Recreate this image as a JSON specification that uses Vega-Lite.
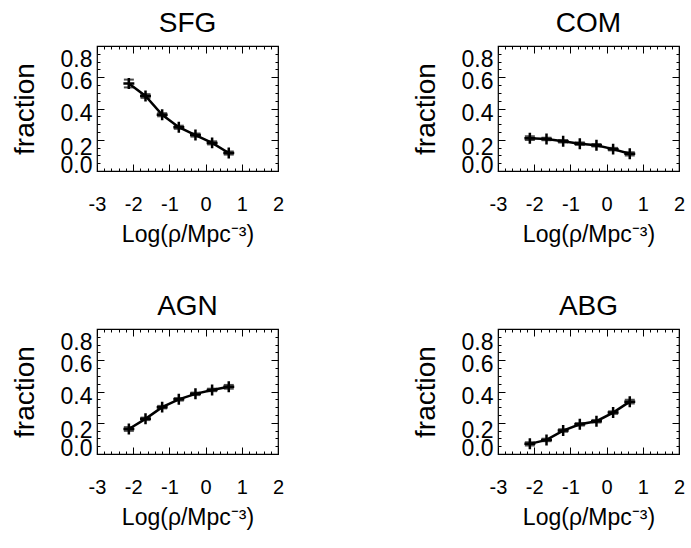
{
  "$schema": "https://vega.github.io/schema/vega-lite/v6.json",
  "background": "white",
  "padding": {"left": 10, "top": 9, "right": 5, "bottom": 5},
  "config": {
    "font": "Liberation Sans",
    "view": {"stroke": "black", "strokeWidth": 1.2}
  },
  "data": {
    "values": [
      {"cls": "SFG", "logrho": -2.12, "frac": 0.56, "lo": 0.535, "hi": 0.585},
      {"cls": "SFG", "logrho": -1.66, "frac": 0.48, "lo": 0.468, "hi": 0.492},
      {"cls": "SFG", "logrho": -1.2, "frac": 0.36, "lo": 0.35, "hi": 0.37},
      {"cls": "SFG", "logrho": -0.74, "frac": 0.28, "lo": 0.27, "hi": 0.29},
      {"cls": "SFG", "logrho": -0.28, "frac": 0.23, "lo": 0.22, "hi": 0.24},
      {"cls": "SFG", "logrho": 0.18, "frac": 0.18, "lo": 0.17, "hi": 0.19},
      {"cls": "SFG", "logrho": 0.64, "frac": 0.115, "lo": 0.105, "hi": 0.125},
      {"cls": "COM", "logrho": -2.12, "frac": 0.21, "lo": 0.198, "hi": 0.222},
      {"cls": "COM", "logrho": -1.66, "frac": 0.205, "lo": 0.197, "hi": 0.213},
      {"cls": "COM", "logrho": -1.2, "frac": 0.19, "lo": 0.182, "hi": 0.198},
      {"cls": "COM", "logrho": -0.74, "frac": 0.175, "lo": 0.167, "hi": 0.183},
      {"cls": "COM", "logrho": -0.28, "frac": 0.165, "lo": 0.157, "hi": 0.173},
      {"cls": "COM", "logrho": 0.18, "frac": 0.14, "lo": 0.132, "hi": 0.148},
      {"cls": "COM", "logrho": 0.64, "frac": 0.11, "lo": 0.1, "hi": 0.12},
      {"cls": "AGN", "logrho": -2.12, "frac": 0.16, "lo": 0.148, "hi": 0.172},
      {"cls": "AGN", "logrho": -1.66, "frac": 0.225, "lo": 0.217, "hi": 0.233},
      {"cls": "AGN", "logrho": -1.2, "frac": 0.3, "lo": 0.292, "hi": 0.308},
      {"cls": "AGN", "logrho": -0.74, "frac": 0.35, "lo": 0.342, "hi": 0.358},
      {"cls": "AGN", "logrho": -0.28, "frac": 0.385, "lo": 0.377, "hi": 0.393},
      {"cls": "AGN", "logrho": 0.18, "frac": 0.41, "lo": 0.402, "hi": 0.418},
      {"cls": "AGN", "logrho": 0.64, "frac": 0.43, "lo": 0.418, "hi": 0.442},
      {"cls": "ABG", "logrho": -2.12, "frac": 0.065, "lo": 0.055, "hi": 0.075},
      {"cls": "ABG", "logrho": -1.66, "frac": 0.09, "lo": 0.082, "hi": 0.098},
      {"cls": "ABG", "logrho": -1.2, "frac": 0.15, "lo": 0.142, "hi": 0.158},
      {"cls": "ABG", "logrho": -0.74, "frac": 0.19, "lo": 0.182, "hi": 0.198},
      {"cls": "ABG", "logrho": -0.28, "frac": 0.21, "lo": 0.202, "hi": 0.218},
      {"cls": "ABG", "logrho": 0.18, "frac": 0.265, "lo": 0.257, "hi": 0.273},
      {"cls": "ABG", "logrho": 0.64, "frac": 0.335, "lo": 0.323, "hi": 0.347}
    ]
  },
  "facet": {
    "field": "cls",
    "type": "nominal",
    "sort": ["SFG", "COM", "AGN", "ABG"],
    "header": {"title": null, "labelFontSize": 28, "labelFont": "Liberation Sans", "labelColor": "black", "labelPadding": 5}
  },
  "columns": 2,
  "spacing": {"row": 45, "column": 126},
  "resolve": {"axis": {"x": "independent", "y": "independent"}},
  "spec": {
    "width": 181,
    "height": 125,
    "resolve": {"axis": {"x": "independent", "y": "independent"}},
    "layer": [
      {
        "mark": {"type": "line", "color": "black", "strokeWidth": 2.5},
        "encoding": {
          "x": {
            "field": "logrho", "type": "quantitative",
            "scale": {"domain": [-3, 2], "nice": false, "zero": false},
            "axis": {
              "title": "Log(ρ/Mpc⁻³)", "titleFontSize": 23, "titleFontWeight": "normal", "titleColor": "black", "titlePadding": 5,
              "values": [-3, -2.8, -2.6, -2.4, -2.2, -2, -1.8, -1.6, -1.4, -1.2, -1, -0.8, -0.6, -0.4, -0.2, 0, 0.2, 0.4, 0.6, 0.8, 1, 1.2, 1.4, 1.6, 1.8, 2],
              "labelExpr": "abs(datum.value - round(datum.value)) < 0.01 ? '' + round(datum.value) : ''",
              "labelFontSize": 20, "labelColor": "black", "labelPadding": 30, "labelFlush": false, "labelOverlap": false,
              "domain": false, "grid": false, "tickColor": "black", "tickWidth": 1,
              "tickSize": {"condition": {"test": "abs(datum.value - round(datum.value)) < 0.01", "value": -7}, "value": -3}
            }
          },
          "y": {
            "field": "frac", "type": "quantitative",
            "scale": {"domain": [0, 0.8], "nice": false, "zero": false},
            "axis": {
              "title": "fraction", "titleFontSize": 28, "titleFontWeight": "normal", "titleColor": "black", "titlePadding": 21,
              "values": [0, 0.05, 0.1, 0.15, 0.2, 0.25, 0.3, 0.35, 0.4, 0.45, 0.5, 0.55, 0.6, 0.65, 0.7, 0.75, 0.8],
              "labelExpr": "abs(datum.value*5 - round(datum.value*5)) < 0.01 ? format(datum.value, '.1f') : ''",
              "labelFontSize": 23, "labelColor": "black", "labelPadding": 12, "labelFlush": false, "labelOverlap": false,
              "labelOffset": {"condition": [
                {"test": "datum.value < 0.01", "value": -6},
                {"test": "abs(datum.value - 0.2) < 0.01", "value": 8},
                {"test": "abs(datum.value - 0.4) < 0.01", "value": 5},
                {"test": "abs(datum.value - 0.6) < 0.01", "value": 4},
                {"test": "abs(datum.value - 0.8) < 0.01", "value": 13}
              ], "value": 0},
              "domain": false, "grid": false, "tickColor": "black", "tickWidth": 1,
              "tickSize": {"condition": {"test": "abs(datum.value*5 - round(datum.value*5)) < 0.01", "value": -7}, "value": -3}
            }
          }
        }
      },
      {
        "mark": {"type": "errorbar", "ticks": {"size": 10, "thickness": 2, "color": "black"}, "rule": {"strokeWidth": 2, "color": "black"}},
        "encoding": {
          "x": {"field": "logrho", "type": "quantitative", "axis": null},
          "y": {"field": "lo", "type": "quantitative", "axis": null},
          "y2": {"field": "hi"}
        }
      },
      {
        "mark": {"type": "point", "shape": "M-1,0L1,0M0,-1L0,1", "size": 120, "strokeWidth": 2.5, "color": "black", "opacity": 1, "filled": false},
        "encoding": {
          "x": {"field": "logrho", "type": "quantitative", "axis": {"orient": "top", "title": null, "labels": false, "domain": false, "grid": false, "tickColor": "black", "values": [-3, -2.8, -2.6, -2.4, -2.2, -2, -1.8, -1.6, -1.4, -1.2, -1, -0.8, -0.6, -0.4, -0.2, 0, 0.2, 0.4, 0.6, 0.8, 1, 1.2, 1.4, 1.6, 1.8, 2], "tickSize": {"condition": {"test": "abs(datum.value - round(datum.value)) < 0.01", "value": -7}, "value": -3}}},
          "y": {"field": "frac", "type": "quantitative", "axis": {"orient": "right", "title": null, "labels": false, "domain": false, "grid": false, "tickColor": "black", "values": [0, 0.05, 0.1, 0.15, 0.2, 0.25, 0.3, 0.35, 0.4, 0.45, 0.5, 0.55, 0.6, 0.65, 0.7, 0.75, 0.8], "tickSize": {"condition": {"test": "abs(datum.value*5 - round(datum.value*5)) < 0.01", "value": -7}, "value": -3}}}
        }
      }
    ]
  }
}
